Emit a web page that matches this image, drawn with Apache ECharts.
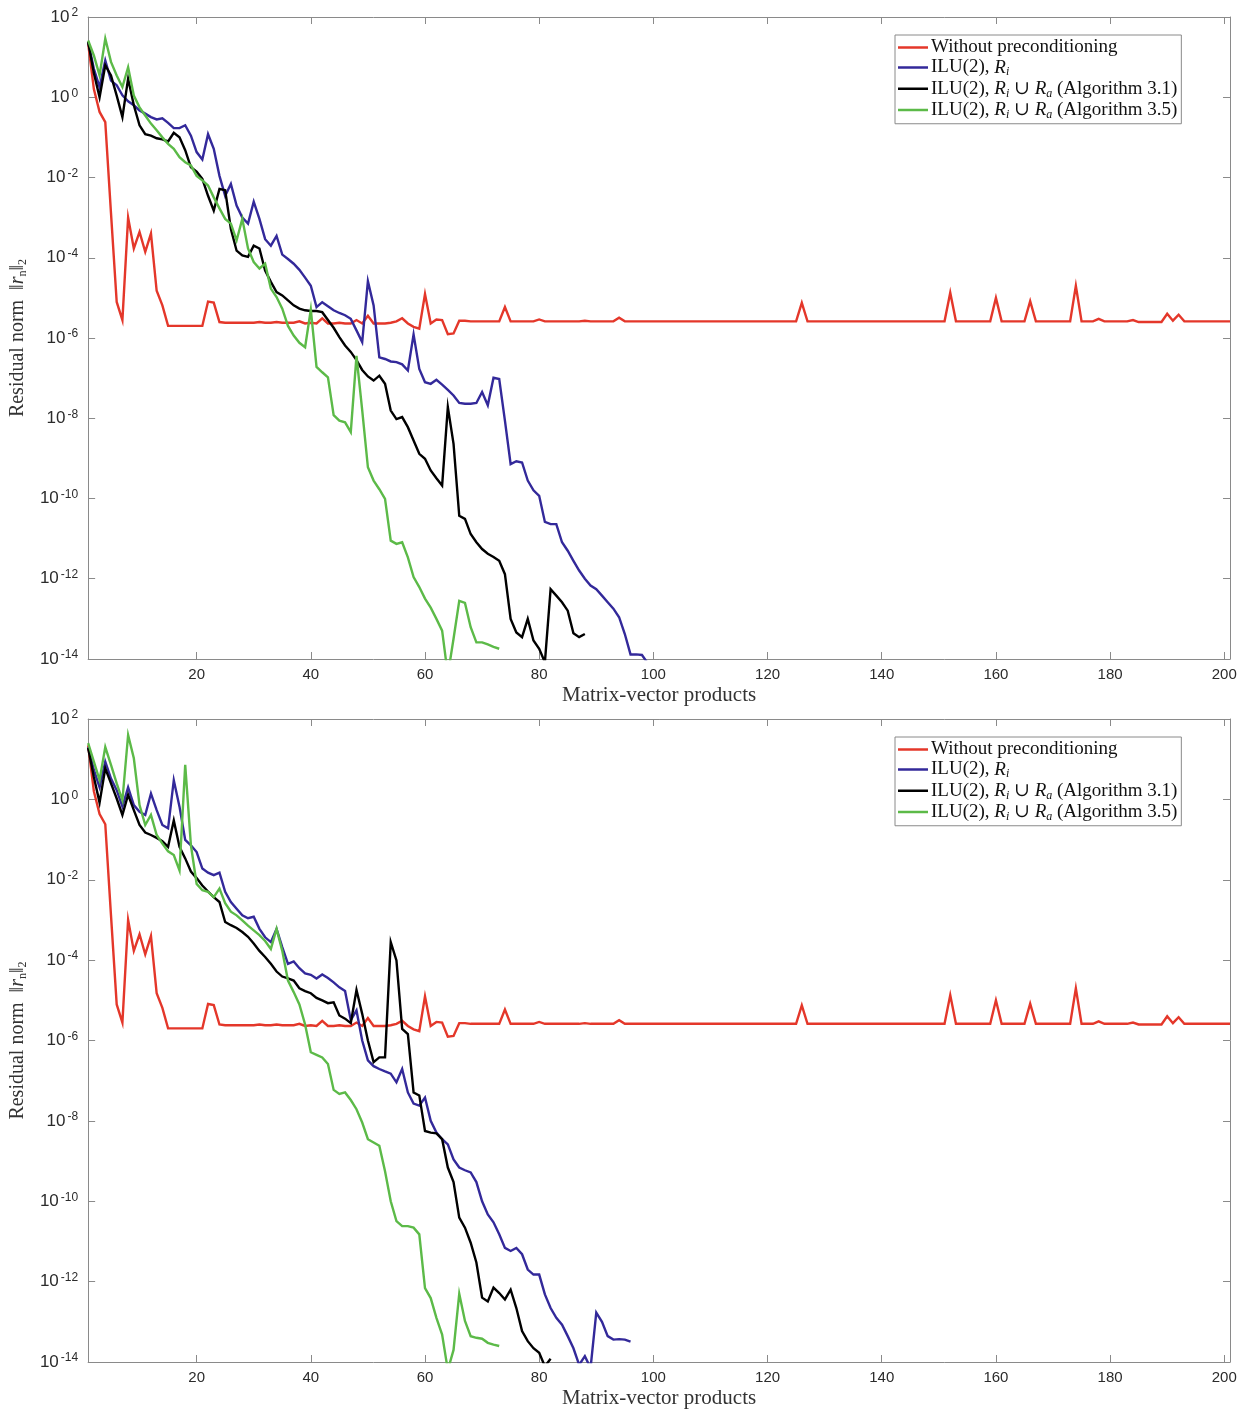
<!DOCTYPE html>
<html>
<head>
<meta charset="utf-8">
<script src="https://cdn.jsdelivr.net/npm/echarts@6/dist/echarts.min.js"></script>
<style>
  html, body { margin: 0; padding: 0; background: #ffffff; }
  #chart { width: 1247px; height: 1411px; }
</style>
</head>
<body>
<div id="chart"></div>
<script>
// Residual norm history per matrix-vector product (first entry = product 1)
const seriesNames = [
  'Without preconditioning',
  'ILU(2), Ri',
  'ILU(2), Ri ∪ Ra (Algorithm 3.1)',
  'ILU(2), Ri ∪ Ra (Algorithm 3.5)'
];
const xTicks = [20, 40, 60, 80, 100, 120, 140, 160, 180, 200];
const xTitle = 'Matrix-vector products';

// Unpreconditioned run (same in both panels)
const residualNone = [
  22, 1.6, 0.43, 0.24, 1.3e-3, 7.9e-6, 2.8e-6, 1.0e-3, 1.7e-4, 4.4e-4,
  1.4e-4, 4.0e-4, 1.5e-5, 6.5e-6, 2.0e-6, 2.0e-6, 2.0e-6, 2.0e-6, 2.0e-6, 2.0e-6,
  2.0e-6, 8.1e-6, 7.6e-6, 2.5e-6, 2.4e-6, 2.4e-6, 2.4e-6, 2.4e-6, 2.4e-6, 2.4e-6,
  2.5e-6, 2.4e-6, 2.4e-6, 2.5e-6, 2.4e-6, 2.4e-6, 2.4e-6, 2.6e-6, 2.3e-6, 2.4e-6,
  2.3e-6, 3.1e-6, 2.3e-6, 2.3e-6, 2.4e-6, 2.3e-6, 2.3e-6, 2.8e-6, 2.3e-6, 3.6e-6,
  2.3e-6, 2.3e-6, 2.3e-6, 2.4e-6, 2.6e-6, 3.1e-6, 2.3e-6, 1.9e-6, 1.7e-6, 1.25e-5,
  2.3e-6, 2.9e-6, 2.8e-6, 1.25e-6, 1.3e-6, 2.7e-6, 2.7e-6, 2.6e-6, 2.6e-6, 2.6e-6,
  2.6e-6, 2.6e-6, 2.6e-6, 5.9e-6, 2.6e-6, 2.6e-6, 2.6e-6, 2.6e-6, 2.6e-6, 2.9e-6,
  2.6e-6, 2.6e-6, 2.6e-6, 2.6e-6, 2.6e-6, 2.6e-6, 2.6e-6, 2.7e-6, 2.6e-6, 2.6e-6,
  2.6e-6, 2.6e-6, 2.6e-6, 3.2e-6, 2.6e-6, 2.6e-6, 2.6e-6, 2.6e-6, 2.6e-6, 2.6e-6,
  2.6e-6, 2.6e-6, 2.6e-6, 2.6e-6, 2.6e-6, 2.6e-6, 2.6e-6, 2.6e-6, 2.6e-6, 2.6e-6,
  2.6e-6, 2.6e-6, 2.6e-6, 2.6e-6, 2.6e-6, 2.6e-6, 2.6e-6, 2.6e-6, 2.6e-6, 2.6e-6,
  2.6e-6, 2.6e-6, 2.6e-6, 2.6e-6, 2.6e-6, 7.5e-6, 2.6e-6, 2.6e-6, 2.6e-6, 2.6e-6,
  2.6e-6, 2.6e-6, 2.6e-6, 2.6e-6, 2.6e-6, 2.6e-6, 2.6e-6, 2.6e-6, 2.6e-6, 2.6e-6,
  2.6e-6, 2.6e-6, 2.6e-6, 2.6e-6, 2.6e-6, 2.6e-6, 2.6e-6, 2.6e-6, 2.6e-6, 2.6e-6,
  2.6e-6, 1.35e-5, 2.6e-6, 2.6e-6, 2.6e-6, 2.6e-6, 2.6e-6, 2.6e-6, 2.6e-6, 1.0e-5,
  2.6e-6, 2.6e-6, 2.6e-6, 2.6e-6, 2.6e-6, 8.3e-6, 2.6e-6, 2.6e-6, 2.6e-6, 2.6e-6,
  2.6e-6, 2.6e-6, 2.6e-6, 2.0e-5, 2.6e-6, 2.6e-6, 2.6e-6, 3.0e-6, 2.6e-6, 2.6e-6,
  2.6e-6, 2.6e-6, 2.6e-6, 2.8e-6, 2.5e-6, 2.5e-6, 2.5e-6, 2.5e-6, 2.5e-6, 4.0e-6,
  2.7e-6, 3.8e-6, 2.6e-6, 2.6e-6, 2.6e-6, 2.6e-6, 2.6e-6, 2.6e-6, 2.6e-6, 2.6e-6,
  2.6e-6
];

// Upper panel
const topIluRi = [
  24, 5.1, 1.8, 8.3, 2.6, 2.0, 1.12, 0.79, 0.63, 0.47,
  0.39, 0.32, 0.28, 0.30, 0.23, 0.17, 0.17, 0.20, 0.11, 0.043,
  0.028, 0.12, 0.052, 0.011, 3.5e-3, 6.9e-3, 2.0e-3, 1.0e-3, 7.1e-4, 2.5e-3,
  9.3e-4, 2.9e-4, 2.0e-4, 3.5e-4, 1.2e-4, 9.3e-5, 7.1e-5, 5.0e-5, 3.2e-5, 2.0e-5,
  5.9e-6, 7.8e-6, 6.2e-6, 4.9e-6, 4.2e-6, 3.7e-6, 3.0e-6, 1.55e-6, 7.9e-7, 2.6e-5,
  6.5e-6, 3.3e-7, 3.0e-7, 2.6e-7, 2.5e-7, 2.2e-7, 1.55e-7, 1.23e-6, 1.7e-7, 7.9e-8,
  7.2e-8, 9.1e-8, 6.9e-8, 5.1e-8, 3.7e-8, 2.4e-8, 2.3e-8, 2.3e-8, 2.4e-8, 4.5e-8,
  2.1e-8, 1.02e-7, 9.5e-8, 8.7e-9, 7.2e-10, 8.5e-10, 7.9e-10, 2.8e-10, 1.6e-10, 1.17e-10,
  2.6e-11, 2.3e-11, 2.3e-11, 8.1e-12, 5.0e-12, 2.8e-12, 1.6e-12, 1.0e-12, 6.8e-13, 5.5e-13,
  3.8e-13, 2.6e-13, 1.8e-13, 1.1e-13, 4.2e-14, 1.3e-14, 1.3e-14, 1.26e-14, 7.9e-15
];
const topAlg31 = [
  24, 4.0, 1.0, 6.3, 3.5, 1.1, 0.32, 2.9, 0.63, 0.2,
  0.12, 0.11, 0.095, 0.089, 0.079, 0.13, 0.1, 0.048, 0.018, 0.014,
  9.3e-3, 3.5e-3, 1.5e-3, 5.2e-3, 4.8e-3, 5.2e-4, 1.5e-4, 1.15e-4, 1.05e-4, 2.0e-4,
  1.7e-4, 4.8e-5, 2.5e-5, 1.4e-5, 1.15e-5, 8.7e-6, 6.5e-6, 5.4e-6, 4.9e-6, 4.7e-6,
  4.7e-6, 4.4e-6, 2.8e-6, 1.8e-6, 1.05e-6, 6.5e-7, 4.5e-7, 2.8e-7, 1.6e-7, 1.1e-7,
  8.7e-8, 1.15e-7, 7.2e-8, 1.55e-8, 9.5e-9, 1.07e-8, 6.0e-9, 2.8e-9, 1.3e-9, 9.8e-10,
  5.0e-10, 3.2e-10, 2.1e-10, 1.9e-8, 2.3e-9, 3.7e-11, 3.1e-11, 1.3e-11, 8.1e-12, 5.5e-12,
  4.2e-12, 3.5e-12, 2.8e-12, 1.3e-12, 1.0e-13, 4.6e-14, 3.5e-14, 1.0e-13, 2.9e-14, 1.8e-14,
  8.3e-15, 5.5e-13, 3.8e-13, 2.6e-13, 1.6e-13, 4.4e-14, 3.5e-14, 4.2e-14
];
const topAlg35 = [
  26, 11, 3.5, 29, 7.6, 3.5, 1.8, 5.6, 1.1, 0.56,
  0.35, 0.22, 0.15, 0.1, 0.069, 0.052, 0.032, 0.024, 0.02, 0.011,
  8.5e-3, 6.3e-3, 3.2e-3, 1.7e-3, 9.3e-4, 7.1e-4, 2.7e-4, 9.3e-4, 1.7e-4, 7.8e-5,
  5.4e-5, 7.1e-5, 1.7e-5, 1.05e-5, 5.4e-6, 2.0e-6, 1.15e-6, 7.6e-7, 5.9e-7, 5.1e-6,
  1.9e-7, 1.4e-7, 1.05e-7, 1.2e-8, 8.7e-9, 7.9e-9, 4.5e-9, 3.6e-7, 1.6e-8, 6.0e-10,
  2.8e-10, 1.7e-10, 9.8e-11, 8.9e-12, 7.4e-12, 8.1e-12, 3.4e-12, 1.1e-12, 6.2e-13, 3.2e-13,
  1.9e-13, 1.0e-13, 5.1e-14, 4.0e-15, 3.2e-14, 2.8e-13, 2.5e-13, 6.2e-14, 2.6e-14, 2.6e-14,
  2.3e-14, 2.0e-14, 1.8e-14
];

// Lower panel
const bottomIluRi = [
  20, 5.4, 2.0, 8.7, 3.3, 1.7, 0.66, 2.0, 0.72, 0.49,
  0.41, 1.4, 0.54, 0.23, 0.19, 3.0, 0.66, 0.098, 0.072, 0.049,
  0.019, 0.015, 0.013, 0.015, 5.0e-3, 2.8e-3, 1.9e-3, 1.3e-3, 1.1e-3, 1.2e-3,
  6.0e-4, 3.7e-4, 2.8e-4, 6.0e-4, 2.1e-4, 8.1e-5, 9.3e-5, 6.3e-5, 4.7e-5, 4.3e-5,
  3.5e-5, 4.4e-5, 3.6e-5, 2.8e-5, 2.1e-5, 1.7e-5, 3.2e-6, 5.6e-6, 1.0e-6, 3.2e-7,
  2.3e-7, 1.95e-7, 1.7e-7, 1.5e-7, 9.1e-8, 1.95e-7, 5.1e-8, 2.7e-8, 2.4e-8, 3.8e-8,
  1.0e-8, 5.1e-9, 3.5e-9, 2.6e-9, 1.1e-9, 6.9e-10, 5.9e-10, 5.2e-10, 3.0e-10, 1.0e-10,
  4.7e-11, 3.0e-11, 1.5e-11, 6.9e-12, 5.8e-12, 6.9e-12, 4.8e-12, 2.0e-12, 1.5e-12, 1.5e-12,
  4.8e-13, 2.2e-13, 1.26e-13, 8.5e-14, 4.4e-14, 2.2e-14, 8.5e-15, 1.4e-14, 7.1e-15, 1.7e-13,
  1.0e-13, 4.4e-14, 3.6e-14, 3.7e-14, 3.6e-14, 3.2e-14
];
const bottomAlg31 = [
  19, 3.6, 0.83, 5.9, 2.5, 1.05, 0.41, 1.3, 0.54, 0.23,
  0.15, 0.13, 0.11, 0.091, 0.066, 0.30, 0.066, 0.034, 0.016, 0.011,
  7.2e-3, 5.1e-3, 3.7e-3, 2.8e-3, 8.9e-4, 7.4e-4, 6.3e-4, 5.0e-4, 3.8e-4, 2.6e-4,
  1.7e-4, 1.2e-4, 8.1e-5, 5.2e-5, 3.9e-5, 3.5e-5, 3.1e-5, 2.0e-5, 1.7e-5, 1.5e-5,
  1.15e-5, 1.0e-5, 8.5e-6, 8.9e-6, 4.2e-6, 3.5e-6, 2.7e-6, 1.8e-5, 4.6e-6, 1.0e-6,
  2.9e-7, 3.8e-7, 3.8e-7, 2.8e-4, 9.8e-5, 1.95e-6, 1.45e-6, 5.1e-8, 4.3e-8, 5.6e-9,
  5.1e-9, 4.9e-9, 3.5e-9, 6.9e-10, 3.0e-10, 3.9e-11, 2.2e-11, 9.3e-12, 3.0e-12, 4.0e-13,
  3.2e-13, 7.1e-13, 5.2e-13, 3.6e-13, 6.3e-13, 2.2e-13, 5.9e-14, 3.3e-14, 2.2e-14, 1.7e-14,
  7.8e-15, 1.2e-14
];
const bottomAlg35 = [
  25, 8.7, 3.0, 20, 7.2, 2.5, 0.95, 40, 10.5, 0.72,
  0.23, 0.41, 0.13, 0.079, 0.051, 0.041, 0.017, 7.2, 0.072, 7.9e-3,
  5.5e-3, 5.0e-3, 3.7e-3, 6.0e-3, 2.6e-3, 1.6e-3, 1.3e-3, 9.8e-4, 7.2e-4, 5.5e-4,
  4.2e-4, 3.0e-4, 1.9e-4, 6.0e-4, 1.7e-4, 3.1e-5, 1.6e-5, 7.9e-6, 2.5e-6, 5.1e-7,
  4.4e-7, 3.8e-7, 2.6e-7, 5.9e-8, 4.7e-8, 5.1e-8, 3.3e-8, 1.95e-8, 9.1e-9, 3.5e-9,
  2.9e-9, 2.4e-9, 5.6e-10, 1.0e-10, 3.2e-11, 2.4e-11, 2.4e-11, 2.2e-11, 1.5e-11, 6.9e-13,
  3.9e-13, 1.26e-13, 4.8e-14, 6.3e-15, 2.0e-14, 5.0e-13, 1.05e-13, 4.4e-14, 4.0e-14, 3.8e-14,
  3.0e-14, 2.7e-14, 2.5e-14
];

const panels = [
  [residualNone, topIluRi, topAlg31, topAlg35],
  [residualNone, bottomIluRi, bottomAlg31, bottomAlg35]
];

const colors = ['#e4372a', '#33299a', '#000000', '#5cba48'];
const frameColor = '#8a8a8a';
const textColor = '#2b2b2b';
const serif = "'Liberation Serif', 'DejaVu Serif', serif";
const sans = "'Liberation Sans', Arial, sans-serif";

const gridBoxes = [
  { left: 88, top: 17, width: 1142, height: 642 },
  { left: 88, top: 719, width: 1142, height: 643 }
];

// Legend entries with math-style subscripts
const legendRich = {
  'Without preconditioning': '{t|Without preconditioning}',
  'ILU(2), Ri': '{t|ILU(2), }{i|R}{s|i}',
  'ILU(2), Ri ∪ Ra (Algorithm 3.1)': '{t|ILU(2), }{i|R}{s|i}{t| ∪ }{i|R}{s|a}{t| (Algorithm 3.1)}',
  'ILU(2), Ri ∪ Ra (Algorithm 3.5)': '{t|ILU(2), }{i|R}{s|i}{t| ∪ }{i|R}{s|a}{t| (Algorithm 3.5)}'
};

const toPairs = arr => arr.map((v, i) => [i + 1, v]);

const xAxes = [], yAxes = [], series = [], legends = [];
gridBoxes.forEach((g, p) => {
  const baseX = {
    type: 'value', gridIndex: p, min: 1, max: 201,
    axisLine: { show: true, onZero: false, lineStyle: { color: frameColor, width: 1 } },
    axisTick: { show: true, inside: true, length: 7, customValues: xTicks, lineStyle: { color: frameColor } },
    splitLine: { show: false }
  };
  xAxes.push(Object.assign({}, baseX, {
    position: 'bottom',
    axisLabel: { customValues: xTicks, color: textColor, fontFamily: sans, fontSize: 15, margin: 8 },
    name: xTitle, nameLocation: 'middle', nameGap: 26,
    nameTextStyle: { fontFamily: serif, fontSize: 21, color: '#333333' }
  }));
  xAxes.push(Object.assign({}, baseX, {
    position: 'top',
    axisLabel: { show: false, customValues: xTicks }
  }));
  const baseY = {
    type: 'log', logBase: 10, gridIndex: p, min: 1e-14, max: 1e2, interval: 2,
    axisLine: { show: true, onZero: false, lineStyle: { color: frameColor, width: 1 } },
    axisTick: { show: true, inside: true, length: 7, lineStyle: { color: frameColor } },
    minorTick: { show: false },
    splitLine: { show: false }
  };
  yAxes.push(Object.assign({}, baseY, {
    position: 'left',
    axisLabel: {
      margin: 10,
      formatter: v => '{b|10}{p|' + Math.round(Math.log10(v)) + '}',
      rich: {
        b: { fontFamily: sans, fontSize: 17, color: textColor, lineHeight: 20 },
        p: { fontFamily: sans, fontSize: 12, color: textColor, lineHeight: 8, verticalAlign: 'top', padding: [0, 0, 0, 2] }
      }
    },
    name: '{t|Residual norm  ‖}{i|r}{s|n}{t|‖}{s|2}',
    nameLocation: 'middle', nameGap: 56, nameRotate: 90,
    nameTextStyle: {
      fontFamily: serif, fontSize: 20, color: '#333333',
      rich: {
        t: { fontFamily: serif, fontSize: 20, color: '#333333', lineHeight: 22 },
        i: { fontFamily: serif, fontSize: 20, fontStyle: 'italic', color: '#333333', lineHeight: 22 },
        s: { fontFamily: serif, fontSize: 12, color: '#333333', lineHeight: 8, verticalAlign: 'bottom' }
      }
    }
  }));
  yAxes.push(Object.assign({}, baseY, {
    position: 'right',
    axisLabel: { show: false }
  }));

  panels[p].forEach((values, k) => {
    series.push({
      name: seriesNames[k], type: 'line',
      xAxisIndex: p * 2, yAxisIndex: p * 2,
      data: toPairs(values),
      showSymbol: false, symbol: 'none', clip: true,
      lineStyle: { color: colors[k], width: 2.4, join: 'miter' },
      itemStyle: { color: colors[k] },
      emphasis: { disabled: true },
      z: 2 + k
    });
  });

  legends.push({
    data: seriesNames, orient: 'vertical',
    left: 895, top: g.top + 18,
    icon: 'rect',
    itemWidth: 30, itemHeight: 2.5, itemGap: 1,
    padding: [3, 4, 3, 3],
    backgroundColor: '#ffffff', borderColor: '#8a8a8a', borderWidth: 1,
    inactiveColor: '#ccc',
    formatter: name => legendRich[name],
    textStyle: {
      padding: [0, 0, 0, -2],
      rich: {
        t: { fontFamily: serif, fontSize: 19, color: '#111111', lineHeight: 21.5 },
        i: { fontFamily: serif, fontSize: 19, fontStyle: 'italic', color: '#111111', lineHeight: 21.5 },
        s: { fontFamily: serif, fontSize: 12, fontStyle: 'italic', color: '#111111', lineHeight: 8, verticalAlign: 'bottom' }
      }
    }
  });
});

const chart = echarts.init(document.getElementById('chart'), null, { renderer: 'canvas' });
chart.setOption({
  backgroundColor: '#ffffff',
  animation: false,
  grid: gridBoxes.map(g => Object.assign({ containLabel: false }, g)),
  xAxis: xAxes,
  yAxis: yAxes,
  legend: legends,
  series: series
});
</script>
</body>
</html>
